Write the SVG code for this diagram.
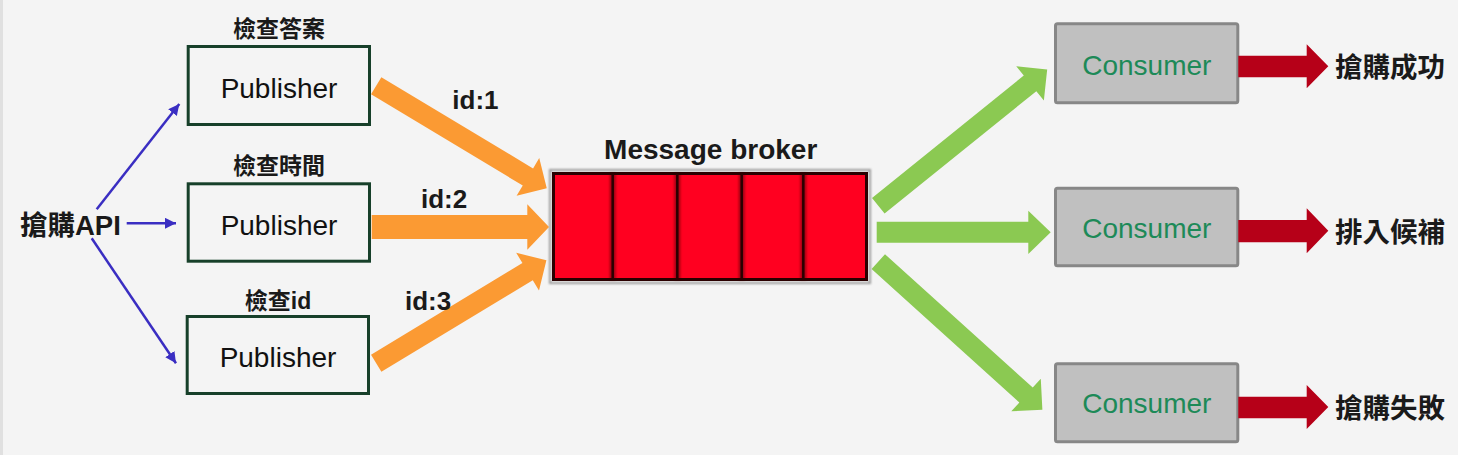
<svg xmlns="http://www.w3.org/2000/svg" width="1458" height="455" viewBox="0 0 1458 455">
<style>
.lat{font-family:"Liberation Sans","Noto Sans CJK TC",Arial,sans-serif}
.cjk{font-family:"Liberation Sans","Noto Sans CJK TC",sans-serif;font-weight:bold;fill:#1a1a1a}
.pub{fill:none;stroke:#17402a;stroke-width:3}
.pubt{font-size:28px;fill:#111;text-anchor:middle}
.con{fill:#c0c0c0;stroke:#878787;stroke-width:3}
.cont{font-size:28px;fill:#1d8a58;text-anchor:middle}
.idl{font-size:26px;font-weight:bold;fill:#1a1a1a}
.blue{stroke:#3a2ec2;stroke-width:2.5;fill:none;marker-end:url(#bh)}
.org{fill:#fb9a33}
.grn{fill:#8bc952}
.red{fill:#b60018}
</style>
<defs>
<marker id="bh" markerUnits="userSpaceOnUse" markerWidth="12" markerHeight="12" refX="11" refY="5.5" orient="auto">
<path d="M0,0 L11,5.5 L0,11 z" fill="#3a2ec2"/>
</marker>
<filter id="soft" x="-5%" y="-10%" width="110%" height="120%"><feGaussianBlur stdDeviation="1"/></filter>
<filter id="soft2" x="-5%" y="-10%" width="110%" height="120%"><feGaussianBlur stdDeviation="0.6"/></filter>
</defs>
<rect x="0" y="0" width="1458" height="455" fill="#f4f4f4"/>
<rect x="0" y="0" width="3" height="455" fill="#e0e0e0"/>

<g id="api"><text class="cjk" x="20" y="234.5" font-size="27.5">搶購API</text></g>

<g id="publisher1">
<text class="cjk" x="279" y="37" font-size="23" text-anchor="middle">檢查答案</text>
<rect class="pub" x="188.2" y="46.5" width="181.3" height="78"/>
<text class="lat pubt" x="279" y="98">Publisher</text>
</g>
<g id="publisher2">
<text class="cjk" x="279" y="173.5" font-size="23" text-anchor="middle">檢查時間</text>
<rect class="pub" x="188.2" y="183.8" width="181.3" height="77.4"/>
<text class="lat pubt" x="279" y="235">Publisher</text>
</g>
<g id="publisher3">
<text class="cjk" x="278" y="308.5" font-size="23" text-anchor="middle">檢查id</text>
<rect class="pub" x="187.2" y="316.5" width="181.3" height="77"/>
<text class="lat pubt" x="278" y="367">Publisher</text>
</g>

<g id="broker">
<text class="lat" x="710.7" y="159.3" font-size="28" font-weight="bold" fill="#1a1a1a" text-anchor="middle">Message broker</text>
<rect x="550" y="170" width="320" height="113" fill="none" stroke="#9a9a9a" stroke-width="2" filter="url(#soft)"/>
<rect x="552" y="172" width="316" height="109" fill="#ff0020"/>
<g stroke="#7a0010" stroke-width="6" opacity="0.7" filter="url(#soft)">
<line x1="612.7" y1="173" x2="612.7" y2="280"/>
<line x1="677.3" y1="173" x2="677.3" y2="280"/>
<line x1="741.7" y1="173" x2="741.7" y2="280"/>
<line x1="803.3" y1="173" x2="803.3" y2="280"/>
</g>
<g stroke="#2a0006" stroke-width="2.5" filter="url(#soft2)">
<line x1="612.7" y1="173" x2="612.7" y2="280"/>
<line x1="677.3" y1="173" x2="677.3" y2="280"/>
<line x1="741.7" y1="173" x2="741.7" y2="280"/>
<line x1="803.3" y1="173" x2="803.3" y2="280"/>
</g>
<rect x="553.5" y="173.5" width="313" height="106" fill="none" stroke="#2a0006" stroke-width="3" filter="url(#soft2)"/>
</g>

<g id="consumer1">
<rect class="con" x="1055.5" y="23.8" width="182.3" height="79" rx="2"/>
<text class="lat cont" x="1146.8" y="75">Consumer</text>
<text class="cjk" x="1335" y="77" font-size="27.5">搶購成功</text>
</g>
<g id="consumer2">
<rect class="con" x="1055.5" y="188.2" width="182.3" height="77.6" rx="2"/>
<text class="lat cont" x="1146.8" y="237.7">Consumer</text>
<text class="cjk" x="1335" y="241.5" font-size="27.5">排入候補</text>
</g>
<g id="consumer3">
<rect class="con" x="1055.5" y="363.8" width="182.3" height="78" rx="2"/>
<text class="lat cont" x="1146.8" y="413.3">Consumer</text>
<text class="cjk" x="1335" y="418" font-size="27.5">搶購失敗</text>
</g>

<g id="connectors">
<line class="blue" x1="96.7" y1="209.3" x2="179.3" y2="104"/>
<line class="blue" x1="126.7" y1="223.3" x2="176" y2="223.3"/>
<line class="blue" x1="91.7" y1="238.3" x2="176" y2="363.3"/>

<polygon class="org" transform="translate(376.2,85.8) rotate(31.0)" points="0,-10 177,-10 177,-22 199,0 177,22 177,10 0,10"/>
<polygon class="org" points="371.7,215 527.3,215 527.3,204.3 549,227 527.3,249.7 527.3,239 371.7,239"/>
<polygon class="org" transform="translate(376.2,363.3) rotate(-31.2)" points="0,-10 177,-10 177,-22 199,0 177,22 177,10 0,10"/>
<text class="lat idl" x="452.3" y="109">id:1</text>
<text class="lat idl" x="421" y="207.7">id:2</text>
<text class="lat idl" x="405" y="310">id:3</text>

<polygon class="grn" transform="translate(878.3,205.8) rotate(-38.9)" points="0,-10 195,-10 195,-22 217,0 195,22 195,10 0,10"/>
<polygon class="grn" points="876.7,221.7 1028.3,221.7 1028.3,210.7 1050.7,232.3 1028.3,254 1028.3,242.7 876.7,242.7"/>
<polygon class="grn" transform="translate(878.3,261.7) rotate(42.06)" points="0,-10 199,-10 199,-22 221,0 199,22 199,10 0,10"/>

<polygon class="red" points="1238.3,55.7 1306.7,55.7 1306.7,44.3 1328.3,66.3 1306.7,88.3 1306.7,77.3 1238.3,77.3"/>
<polygon class="red" points="1238.3,220 1306.7,220 1306.7,208.3 1328.3,230.8 1306.7,253.3 1306.7,242.3 1238.3,242.3"/>
<polygon class="red" points="1238.3,396.7 1306.7,396.7 1306.7,385 1328.3,407 1306.7,429 1306.7,418.3 1238.3,418.3"/>
</g>
</svg>
